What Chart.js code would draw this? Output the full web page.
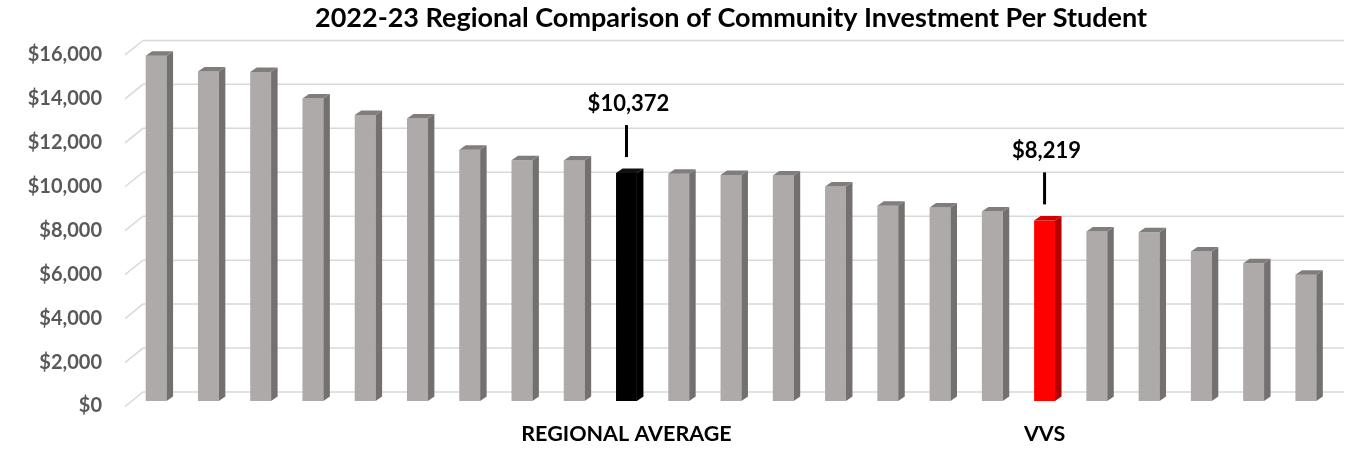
<!DOCTYPE html>
<html>
<head>
<meta charset="utf-8">
<title>Community Investment Per Student</title>
<script src="https://cdn.jsdelivr.net/npm/chart.js@4/dist/chart.umd.min.js"></script>
<style>
    body { margin: 0; background: #fff; }
    #wrap { width: 1355px; height: 455px; }
</style>
</head>
<body>
<div id="wrap"><canvas id="investChart"></canvas></div>
<script>
// Districts, sorted high to low (only two are named on the chart)
const districts = ["", "", "", "", "", "", "", "", "", "REGIONAL AVERAGE",
    "", "", "", "", "", "", "", "VVS", "", "", "", "", ""];
const perStudent = [15710, 14990, 14970, 13770, 13010, 12860, 11430, 10950, 10940, 10372,
    10340, 10280, 10260, 9760, 8880, 8800, 8620, 8219, 7710, 7680, 6800, 6270, 5740];
const yTicks = [0, 2000, 4000, 6000, 8000, 10000, 12000, 14000, 16000];

const FONT = "Lato, 'Open Sans', sans-serif";
const money = v => "$" + v.toLocaleString("en-US");

// front / side / top shades for each bar
function shadesFor(name) {
    if (name === "REGIONAL AVERAGE") return ["#000000", "#000000", "#111111"];
    if (name === "VVS") return ["#FF0000", "#B50000", "#D40000"];
    return ["#AEAAA9", "#747070", "#817D7C"];
}

// Fake Excel-style 3D: back-wall grid, bar sides and tops, callouts
const depthPlugin = {
    id: "depth3d",
    beforeDatasetsDraw(chart) {
        const { ctx, chartArea, scales: { y } } = chart;
        ctx.save();
        ctx.strokeStyle = "#D9D9D9";
        ctx.lineWidth = 1.5;
        yTicks.forEach(v => {
            const py = y.getPixelForValue(v);
            ctx.beginPath();
            ctx.moveTo(chartArea.left - 5, py + 5.5);
            ctx.lineTo(chartArea.left + 13, py - 9);
            ctx.lineTo(chartArea.right + 12, py - 9);
            ctx.stroke();
        });
        ctx.restore();
    },
    afterDatasetsDraw(chart) {
        const { ctx } = chart;
        const dx = 6.5, dy = 4.5;
        ctx.save();
        chart.getDatasetMeta(0).data.forEach((bar, i) => {
            const { x, y, base, width } = bar.getProps(["x", "y", "base", "width"], true);
            const l = x - width / 2, r = x + width / 2;
            const shades = shadesFor(districts[i]);
            // side face
            ctx.fillStyle = shades[1];
            ctx.beginPath();
            ctx.moveTo(r, y); ctx.lineTo(r + dx, y - dy);
            ctx.lineTo(r + dx, base - dy); ctx.lineTo(r, base);
            ctx.closePath(); ctx.fill();
            // top face
            ctx.fillStyle = shades[2];
            ctx.beginPath();
            ctx.moveTo(l, y); ctx.lineTo(l + dx, y - dy);
            ctx.lineTo(r + dx, y - dy); ctx.lineTo(r, y);
            ctx.closePath(); ctx.fill();

            // callout above the named bars
            if (districts[i] !== "") {
                ctx.strokeStyle = "#000";
                ctx.lineWidth = 3;
                ctx.beginPath();
                ctx.moveTo(x, y - 16);
                ctx.lineTo(x, y - 48);
                ctx.stroke();
                ctx.fillStyle = "#000";
                ctx.font = "bold 22px " + FONT;
                ctx.textAlign = "center";
                ctx.textBaseline = "middle";
                ctx.fillText(money(perStudent[i]), x + 2, y - 69);
            }
        });
        ctx.restore();
    }
};

new Chart(document.getElementById("investChart"), {
    type: "bar",
    data: {
        labels: districts,
        datasets: [{
            data: perStudent,
            backgroundColor: districts.map(d => shadesFor(d)[0]),
            borderWidth: 0,
            barPercentage: 0.8,
            categoryPercentage: 0.5
        }]
    },
    options: {
        responsive: true,
        maintainAspectRatio: false,
        animation: false,
        layout: { padding: { left: 0, right: 23, top: 0, bottom: 0 } },
        plugins: {
            legend: { display: false },
            tooltip: { enabled: false },
            title: {
                display: true,
                fullSize: false,
                text: "2022-23 Regional Comparison of Community Investment Per Student",
                color: "#000",
                font: { family: FONT, size: 27, weight: "bold" },
                padding: { top: 2, bottom: 15 }
            }
        },
        scales: {
            x: {
                grid: { display: false, drawTicks: false },
                border: { display: false },
                ticks: {
                    autoSkip: false,
                    maxRotation: 0,
                    padding: 20,
                    color: "#000",
                    font: { family: FONT, size: 21.5, weight: "bold" }
                },
                afterFit: s => { s.height = 54; }
            },
            y: {
                min: 0,
                max: 16000,
                grid: { display: false, drawTicks: false },
                border: { display: false },
                ticks: {
                    stepSize: 2000,
                    padding: 28,
                    labelOffset: 5,
                    color: "#595959",
                    font: { family: FONT, size: 20, weight: "bold" },
                    callback: v => money(v)
                },
                afterFit: s => { s.width = 130; }
            }
        }
    },
    plugins: [depthPlugin]
});
</script>
</body>
</html>
